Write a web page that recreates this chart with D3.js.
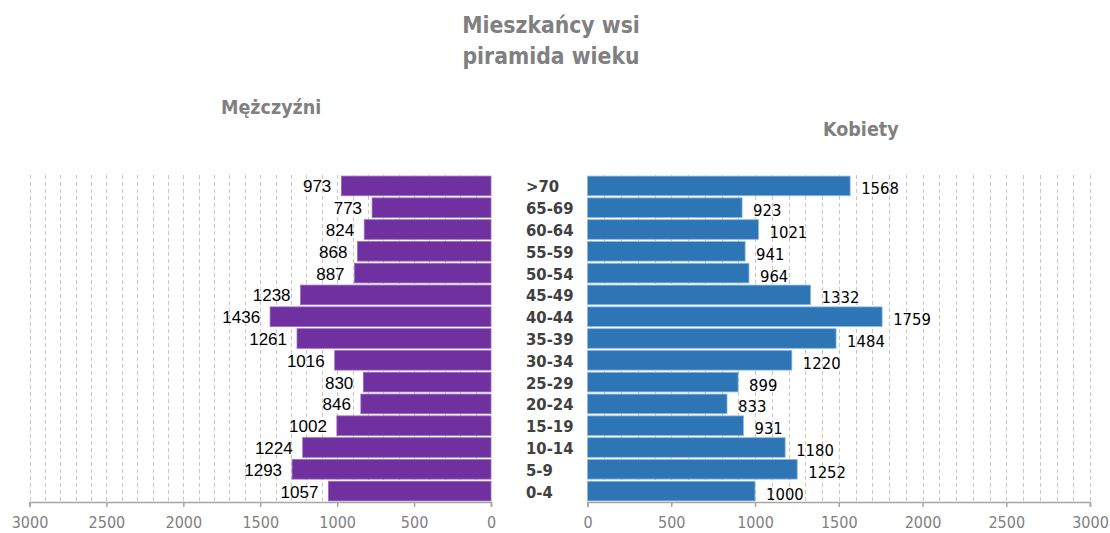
<!DOCTYPE html>
<html><head><meta charset="utf-8">
<script src="https://cdn.jsdelivr.net/npm/d3@7"></script>
<style>
body{margin:0;background:#fff;}
svg{display:block;}
</style></head>
<body>
<svg id="chart" width="1110" height="533"></svg>
<script>
const categories = [">70","65-69","60-64","55-59","50-54","45-49","40-44","35-39","30-34","25-29","20-24","15-19","10-14","5-9","0-4"];
const men = [973,773,824,868,887,1238,1436,1261,1016,830,846,1002,1224,1293,1057];
const women = [1568,923,1021,941,964,1332,1759,1484,1220,899,833,931,1180,1252,1000];
const tickValues = [0,500,1000,1500,2000,2500,3000];
const titleLines = ["Mieszkańcy wsi","piramida wieku"];
const menLabel = "Mężczyźni";
const womenLabel = "Kobiety";

const svg = d3.select("#chart");
const plotTop = 175, plotBottom = 502;
const y = d3.scaleBand().domain(categories).range([plotTop, plotBottom]).paddingInner(0.1).paddingOuter(0.05);
const xL = d3.scaleLinear().domain([0,3000]).range([491,29.5]);
const xR = d3.scaleLinear().domain([0,3000]).range([587.5,1090]);
const gridVals = d3.range(100,3001,100);

// gridlines
function grid(scale){
  svg.append("g").selectAll("line").data(gridVals).join("line")
    .attr("x1",d=>Math.round(scale(d))+0.5).attr("x2",d=>Math.round(scale(d))+0.5)
    .attr("y1",plotTop).attr("y2",plotBottom)
    .attr("stroke","#c8c8c8").attr("stroke-width",1).attr("stroke-dasharray","4,3");
}
grid(xL); grid(xR);

// bars
svg.append("g").selectAll("rect").data(men).join("rect")
  .attr("x",d=>xL(d)).attr("width",d=>xL(0)-xL(d))
  .attr("y",(d,i)=>y(categories[i])).attr("height",y.bandwidth())
  .attr("fill","#7030a0").attr("stroke","#9a6cc0").attr("stroke-width",0.8);
svg.append("g").selectAll("rect").data(women).join("rect")
  .attr("x",xR(0)).attr("width",d=>xR(d)-xR(0))
  .attr("y",(d,i)=>y(categories[i])).attr("height",y.bandwidth())
  .attr("fill","#2e75b6").attr("stroke","#8cb8e0").attr("stroke-width",0.8);

// value labels
svg.append("g").selectAll("text").data(men).join("text")
  .attr("x",d=>xL(d)-10).attr("y",(d,i)=>y(categories[i])+y.bandwidth()/2+1)
  .attr("text-anchor","end").attr("dominant-baseline","central")
  .attr("font-family","Liberation Sans, Arial, sans-serif").attr("font-size","17px").attr("fill","#000")
  .text(d=>d);
svg.append("g").selectAll("text").data(women).join("text")
  .attr("x",d=>xR(d)+11).attr("y",(d,i)=>y(categories[i])+y.bandwidth()/2+3)
  .attr("text-anchor","start").attr("dominant-baseline","central")
  .attr("font-family","DejaVu Sans Condensed, DejaVu Sans, sans-serif").attr("font-size","16.5px").attr("fill","#000")
  .text(d=>d);

// category labels
svg.append("g").selectAll("text").data(categories).join("text")
  .attr("x",526).attr("y",d=>y(d)+y.bandwidth()/2+1)
  .attr("dominant-baseline","central")
  .attr("font-family","DejaVu Sans Condensed, DejaVu Sans, sans-serif").attr("font-weight","bold").attr("font-size","16.5px").attr("fill","#404040")
  .text(d=>d);

// axes
function axis(scale){
  const g = svg.append("g").attr("transform",`translate(0,${plotBottom})`)
    .call(d3.axisBottom(scale).tickValues(tickValues).tickSize(5).tickPadding(10).tickFormat(d3.format("d")));
  g.select(".domain").attr("stroke","#a6a6a6").attr("stroke-width",1.5);
  g.selectAll(".tick line").attr("stroke","#a6a6a6").attr("stroke-width",1.5);
  g.selectAll(".tick text").attr("fill","#808080")
    .attr("font-family","DejaVu Sans Condensed, DejaVu Sans, sans-serif").attr("font-size","16px");
}
axis(xL); axis(xR);

// titles
svg.append("g").selectAll("text").data(titleLines).join("text")
  .attr("x",551).attr("y",(d,i)=>33+i*31)
  .attr("text-anchor","middle")
  .attr("font-family","DejaVu Sans Condensed, DejaVu Sans, sans-serif").attr("font-weight","bold").attr("font-size","22.7px").attr("fill","#808080")
  .text(d=>d);
svg.append("text").attr("x",221).attr("y",114)
  .attr("font-family","DejaVu Sans Condensed, DejaVu Sans, sans-serif").attr("font-weight","bold").attr("font-size","19.5px").attr("fill","#808080")
  .text(menLabel);
svg.append("text").attr("x",823).attr("y",136)
  .attr("font-family","DejaVu Sans Condensed, DejaVu Sans, sans-serif").attr("font-weight","bold").attr("font-size","19.5px").attr("fill","#808080")
  .text(womenLabel);
</script>
</body></html>
